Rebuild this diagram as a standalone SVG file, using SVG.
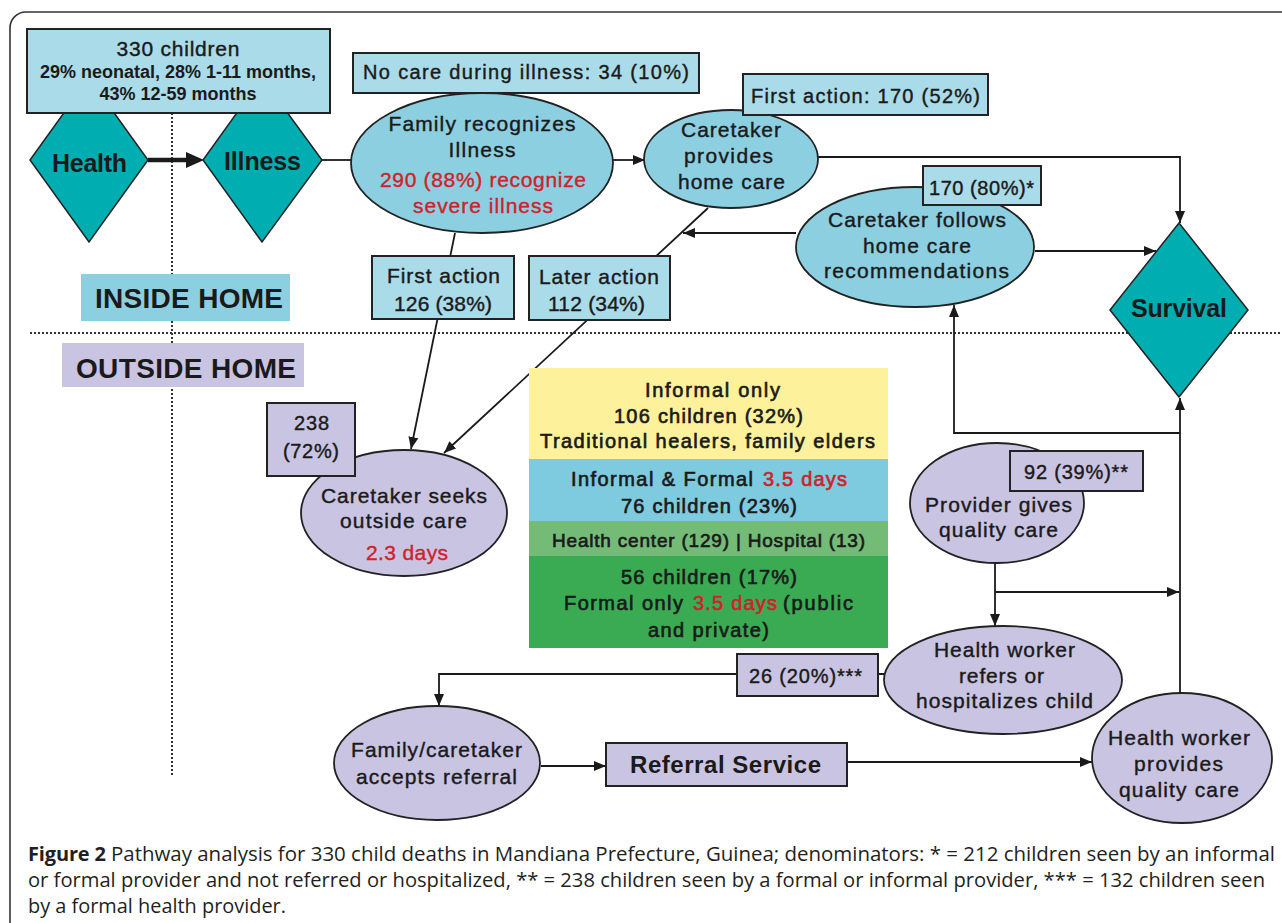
<svg xmlns="http://www.w3.org/2000/svg" width="1282" height="923" viewBox="0 0 1282 923">
<style>
.frame{fill:#fff;stroke:#333;stroke-width:1.6}
.box{fill:#aadbe9;stroke:#222;stroke-width:2}
.lbox{fill:#c9c4e2;stroke:#222;stroke-width:2}
.ell{fill:#8ccfe1;stroke:#222;stroke-width:1.8}
.lav{fill:#c9c4e2;stroke:#222;stroke-width:1.8}
.dia{fill:#00adb0;stroke:#222;stroke-width:1.5}
.t{font-family:"Liberation Sans",Arial,sans-serif;fill:#1a1a1a;text-anchor:middle;font-size:21px}
.f18{font-size:18px}
.f19{font-size:19px}
.f20{font-size:20px}
.f24{font-size:24px}
.f25{font-size:25px}
.f28{font-size:28px}
.s{text-anchor:start}
.b{font-weight:bold}
.m{stroke:#1a1a1a;stroke-width:0.4px}
.m2{stroke:#1a1a1a;stroke-width:0.65px}
.red{fill:#d0222a}
.red.m,.red.m2{stroke:#d0222a}
.ln{fill:none;stroke:#1a1a1a;stroke-width:1.8}
.dot{fill:none;stroke:#333;stroke-width:2;stroke-dasharray:2 2}
.cap{font-family:"Open Sans","Liberation Sans",sans-serif;fill:#231f20;font-size:20px}
</style>
<defs>
<marker id="ah" markerWidth="13" markerHeight="11" refX="12" refY="5.5" orient="auto" markerUnits="userSpaceOnUse">
<path d="M0,0.5 L12,5.5 L0,10.5 z" fill="#1a1a1a"/>
</marker>
</defs>
<rect class="frame" x="10" y="12" width="1300" height="940" rx="16"/>

<g id="separators">
<line class="dot" x1="30" y1="333" x2="1282" y2="333"/>
<line class="dot" x1="172" y1="113" x2="172" y2="775"/>
</g>

<g id="connectors">
<line x1="148" y1="160" x2="188" y2="160" stroke="#1a1a1a" stroke-width="4.5"/>
<polygon points="186,152 204,160 186,168" fill="#1a1a1a"/>
<line class="ln" x1="322" y1="160" x2="351" y2="160"/>
<line class="ln" x1="613" y1="160" x2="645" y2="160" marker-end="url(#ah)"/>
<path class="ln" d="M818,157 H1180 V223" marker-end="url(#ah)"/>
<line class="ln" x1="455" y1="233" x2="411" y2="449" marker-end="url(#ah)"/>
<line class="ln" x1="708" y1="208" x2="444" y2="453" marker-end="url(#ah)"/>
<line class="ln" x1="796" y1="233" x2="683" y2="233" marker-end="url(#ah)"/>
<line class="ln" x1="1035" y1="251" x2="1156" y2="251" marker-end="url(#ah)"/>
<path class="ln" d="M1180,433 H954 V305" marker-end="url(#ah)"/>
<path class="ln" d="M1180,693 V398" marker-end="url(#ah)"/>
<path class="ln" d="M995,563 V626" marker-end="url(#ah)"/>
<path class="ln" d="M995,592 H1179" marker-end="url(#ah)"/>
<path class="ln" d="M884,674 H439 V706" marker-end="url(#ah)"/>
<path class="ln" d="M541,766 H606" marker-end="url(#ah)"/>
<path class="ln" d="M847,762 H1092" marker-end="url(#ah)"/>
</g>

<g id="health">
<polygon class="dia" points="89,78 148,160 89,242 30,160"/>
<text class="t b f25" x="89.5" y="172" textLength="75">Health</text>
</g>
<g id="illness">
<polygon class="dia" points="262,78 322,160 262,242 203,160"/>
<text class="t b f25" x="262.5" y="170" textLength="77">Illness</text>
</g>
<g id="children330">
<rect class="box" x="27" y="29" width="303" height="84"/>
<text class="t m" x="178" y="56" textLength="123">330 children</text>
<text class="t b f18" x="178" y="78" textLength="276">29% neonatal, 28% 1-11 months,</text>
<text class="t b f18" x="178" y="100" textLength="157">43% 12-59 months</text>
</g>

<g id="family-recognizes">
<ellipse class="ell" cx="482" cy="163" rx="131" ry="70"/>
<text class="t m" x="482" y="131" textLength="187">Family recognizes</text>
<text class="t m" x="482" y="157" textLength="67">Illness</text>
<text class="t m red" x="483" y="187" textLength="206">290 (88%) recognize</text>
<text class="t m red" x="483" y="213" textLength="140">severe illness</text>
</g>
<g id="no-care">
<rect class="box" x="353" y="53" width="346" height="40"/>
<text class="t m f20" x="526" y="79" textLength="326">No care during illness: 34 (10%)</text>
</g>

<g id="caretaker-provides">
<ellipse class="ell" cx="731" cy="159" rx="87" ry="49"/>
<text class="t m" x="731" y="137" textLength="100">Caretaker</text>
<text class="t m" x="728.5" y="163" textLength="89">provides</text>
<text class="t m" x="731.5" y="189" textLength="107">home care</text>
</g>
<g id="first-action-170">
<rect class="box" x="743" y="74" width="245" height="41"/>
<text class="t m f20" x="865.5" y="103" textLength="229">First action: 170 (52%)</text>
</g>

<g id="caretaker-follows">
<ellipse class="ell" cx="915" cy="247" rx="119" ry="60"/>
<text class="t m" x="917" y="227" textLength="178">Caretaker follows</text>
<text class="t m" x="917" y="253" textLength="108">home care</text>
<text class="t m" x="916.5" y="278" textLength="185">recommendations</text>
</g>
<g id="home-care-80">
<rect class="box" x="923" y="166" width="118" height="39"/>
<text class="t m f20" x="981.5" y="195" textLength="105">170 (80%)*</text>
</g>

<g id="survival">
<polygon class="dia" points="1179,223 1248,310 1179,397 1110,310"/>
<text class="t b f25" x="1179" y="317" textLength="96">Survival</text>
</g>

<g id="inside-home">
<rect x="81" y="274" width="209" height="47" fill="#8ccfe1"/>
<text class="t b f28" x="189" y="308" textLength="188">INSIDE HOME</text>
</g>
<g id="outside-home">
<rect x="62" y="343" width="242" height="44" fill="#c9c4e2"/>
<text class="t b f28" x="186" y="378" textLength="220">OUTSIDE HOME</text>
</g>

<g id="first-action-126">
<rect class="box" x="372" y="256" width="142" height="63"/>
<text class="t m" x="443.5" y="283" textLength="113">First action</text>
<text class="t m" x="443" y="311" textLength="98">126 (38%)</text>
</g>
<g id="later-action">
<rect class="box" x="529" y="256" width="141" height="64"/>
<text class="t m" x="599" y="284" textLength="120">Later action</text>
<text class="t m" x="596.5" y="311" textLength="97">112 (34%)</text>
</g>

<g id="caretaker-seeks">
<ellipse class="lav" cx="404" cy="513" rx="103" ry="63"/>
<text class="t m" x="404" y="503" textLength="166">Caretaker seeks</text>
<text class="t m" x="403.5" y="528" textLength="127">outside care</text>
<text class="t m red" x="407" y="560" textLength="82">2.3 days</text>
</g>
<g id="n238">
<rect class="lbox" x="267" y="403" width="88" height="73"/>
<text class="t m f20" x="311.5" y="430" textLength="35">238</text>
<text class="t m f20" x="311" y="458" textLength="56">(72%)</text>
</g>

<g id="care-types">
<rect x="529" y="368" width="359" height="91" fill="#fdf29b"/>
<rect x="529" y="459" width="359" height="62" fill="#7ecadf"/>
<rect x="529" y="521" width="359" height="35" fill="#74bb78"/>
<rect x="529" y="556" width="359" height="92" fill="#3aab52"/>
<text class="t m2 f20" x="712.5" y="397" textLength="135">Informal only</text>
<text class="t m2 f20" x="708.5" y="423" textLength="189">106 children (32%)</text>
<text class="t m2 f20" x="707.5" y="448" textLength="335">Traditional healers, family elders</text>
<text class="t m2 f20 s" x="571" y="486" textLength="182">Informal &amp; Formal</text>
<text class="t m2 f20 s red" x="763" y="486" textLength="84">3.5 days</text>
<text class="t m2 f20" x="709" y="513" textLength="176">76 children (23%)</text>
<text class="t m2 f19" x="708.5" y="547" textLength="313">Health center (129) | Hospital (13)</text>
<text class="t m2 f20" x="709" y="584" textLength="176">56 children (17%)</text>
<text class="t m2 f20 s" x="564" y="610" textLength="119">Formal only</text>
<text class="t m2 f20 s red" x="693" y="610" textLength="84">3.5 days</text>
<text class="t m2 f20 s" x="783" y="610" textLength="70">(public</text>
<text class="t m2 f20" x="708.5" y="637" textLength="121">and private)</text>
</g>

<g id="provider-gives">
<ellipse class="lav" cx="997" cy="503" rx="87" ry="60"/>
<text class="t m" x="998.5" y="512" textLength="147">Provider gives</text>
<text class="t m" x="998.5" y="537" textLength="119">quality care</text>
</g>
<g id="n92">
<rect class="lbox" x="1010" y="451" width="133" height="40"/>
<text class="t m f20" x="1076" y="479" textLength="104">92 (39%)**</text>
</g>

<g id="health-worker-refers">
<ellipse class="lav" cx="1003" cy="680" rx="119" ry="54"/>
<text class="t m" x="1004.5" y="657" textLength="141">Health worker</text>
<text class="t m" x="1001.5" y="683" textLength="85">refers or</text>
<text class="t m" x="1004.5" y="708" textLength="177">hospitalizes child</text>
</g>
<g id="health-worker-provides">
<ellipse class="lav" cx="1182" cy="758" rx="90" ry="65"/>
<text class="t m" x="1179" y="745" textLength="142">Health worker</text>
<text class="t m" x="1178.5" y="771" textLength="89">provides</text>
<text class="t m" x="1179" y="797" textLength="120">quality care</text>
</g>
<g id="n26">
<rect class="lbox" x="737" y="654" width="141" height="42"/>
<text class="t m f20" x="805.5" y="683" textLength="113">26 (20%)***</text>
</g>
<g id="family-accepts">
<ellipse class="lav" cx="437" cy="763" rx="103" ry="57"/>
<text class="t m" x="436.5" y="757" textLength="171">Family/caretaker</text>
<text class="t m" x="436.5" y="784" textLength="161">accepts referral</text>
</g>
<g id="referral-service">
<rect class="lbox" x="606" y="743" width="241" height="43"/>
<text class="t b f24" x="725.5" y="773" textLength="191">Referral Service</text>
</g>

<g id="caption">
<text class="cap" x="28" y="861" font-weight="bold" textLength="78">Figure 2</text>
<text class="cap" x="111" y="861" textLength="1164" lengthAdjust="spacingAndGlyphs">Pathway analysis for 330 child deaths in Mandiana Prefecture, Guinea; denominators: * = 212 children seen by an informal</text>
<text class="cap" x="28" y="887" textLength="1237" lengthAdjust="spacingAndGlyphs">or formal provider and not referred or hospitalized, ** = 238 children seen by a formal or informal provider, *** = 132 children seen</text>
<text class="cap" x="28" y="913" textLength="258" lengthAdjust="spacingAndGlyphs">by a formal health provider.</text>
</g>
</svg>
